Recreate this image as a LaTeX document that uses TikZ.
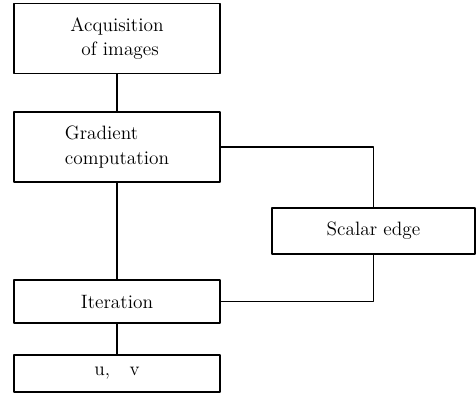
\documentclass[tikz,border=0pt]{standalone}
\usetikzlibrary{positioning}
\begin{document}
\begin{tikzpicture}[x=0.02cm, y=-0.02cm, line width=1pt, line join=round, line cap=round,
  font=\fontsize{11}{14}\selectfont,
  box/.style={draw, inner sep=0pt, align=center}]
\useasboundingbox (0,0) rectangle (476,403);
\node[box, minimum width=206*0.02cm, minimum height=70*0.02cm] (acq) at (117,38.5) {Acquisition\\ \ of images};
\node[box, minimum width=206*0.02cm, minimum height=70*0.02cm, align=left] (grad) at (117,147) {Gradient\\computation};
\node[box, minimum width=203*0.02cm, minimum height=46*0.02cm] (scal) at (373.5,231) {Scalar edge};
\node[box, minimum width=206*0.02cm, minimum height=43*0.02cm] (iter) at (117,301.5) {Iteration};
\node[box, minimum width=206*0.02cm, minimum height=37*0.02cm] (uv) at (117,373.5) {u,\quad v};
\draw (acq.south)--(grad.north);
\draw (grad.south)--(iter.north);
\draw (iter.south)--(uv.north);
\draw (grad.east)-|(scal.north);
\draw (iter.east)-|(scal.south);
\end{tikzpicture}
\end{document}
